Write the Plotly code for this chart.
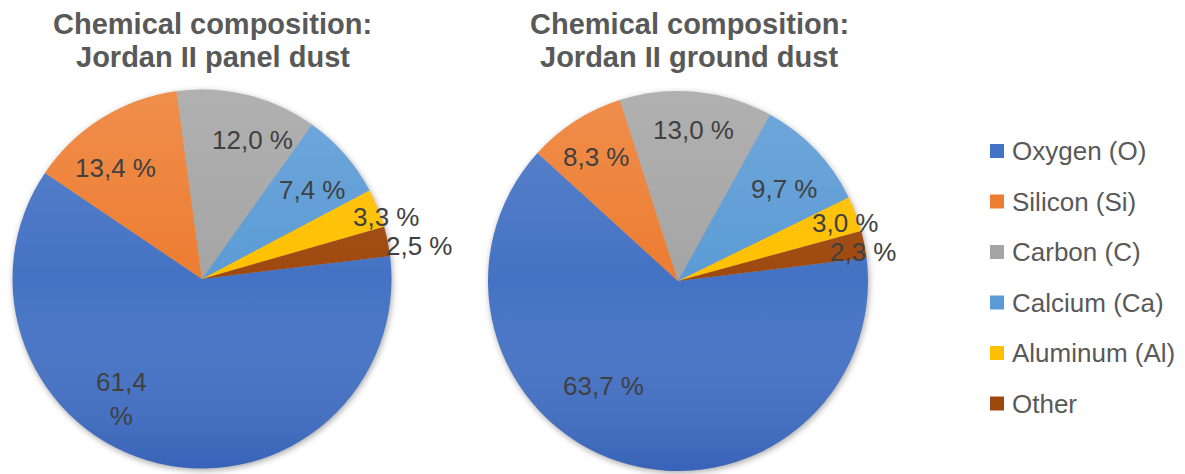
import base64
import math
import plotly.graph_objects as go

# ---- data -------------------------------------------------------------
elements = ["Oxygen (O)", "Silicon (Si)", "Carbon (C)", "Calcium (Ca)", "Aluminum (Al)", "Other"]
panel_dust = [61.4, 13.4, 12.0, 7.4, 3.3, 2.5]
ground_dust = [63.7, 8.3, 13.0, 9.7, 3.0, 2.3]
titles = ["Chemical composition:", "Jordan II panel dust", "Jordan II ground dust"]

# ---- styling ----------------------------------------------------------
colors = ["#4472C4", "#ED7D31", "#A5A5A5", "#5B9BD5", "#FFC000", "#9E480E"]
W, H = 1185, 474
FONT = "Liberation Sans, Arial, sans-serif"
START_ANGLE = 83  # first slice starts this many degrees clockwise from 12 o'clock

# pie geometry in pixels: centre x, centre y, radius
pies = [
    dict(values=panel_dust, cx=202, cy=279, r=189.5, title=titles[1], tx=213,
         # per-slice label placement: (angle shift in degrees, radius fraction)
         place=[(20.4, 0.76), (-6.1, 0.74), (6.0, 0.78), (2.5, 0.75), (3.3, 1.03), (2.8, 1.16)],
         wrap={0}),
    dict(values=ground_dust, cx=678, cy=281, r=190, title=titles[2], tx=689,
         place=[(17.8, 0.68), (-0.8, 0.78), (0.4, 0.80), (2.5, 0.74), (1.6, 0.935), (2.2, 0.99)],
         wrap=set()),
]


def px(x):
    return x / W


def py(y):
    return 1 - y / H


def fmt(v):
    return f"{v:.1f} %".replace(".", ",")


def svg_uri(svg):
    return "data:image/svg+xml;base64," + base64.b64encode(svg.encode()).decode()


SHADE_SVG = (
    "<svg xmlns='http://www.w3.org/2000/svg' width='200' height='200' viewBox='0 0 200 200' "
    "preserveAspectRatio='none'><defs><linearGradient id='g' x1='0' y1='0' x2='0' y2='1'>"
    "<stop offset='0' stop-color='#ffffff' stop-opacity='0.13'/>"
    "<stop offset='0.5' stop-color='#ffffff' stop-opacity='0'/>"
    "<stop offset='1' stop-color='#0c2c8c' stop-opacity='0.22'/>"
    "</linearGradient></defs><circle cx='100' cy='100' r='100' fill='url(#g)'/></svg>"
)


def shadow_svg(r, pad):
    s = 2 * (r + pad)
    return (
        f"<svg xmlns='http://www.w3.org/2000/svg' width='{s}' height='{s}' viewBox='0 0 {s} {s}'>"
        "<defs><filter id='b' x='-20%' y='-20%' width='140%' height='140%'>"
        "<feGaussianBlur stdDeviation='3'/></filter></defs>"
        f"<circle cx='{pad + r + 1}' cy='{pad + r + 2}' r='{r}' fill='#000' fill-opacity='0.35' filter='url(#b)'/>"
        "</svg>"
    )


fig = go.Figure()
images = []
annotations = []

for p in pies:
    r = p["r"]
    x0, x1 = px(p["cx"] - r), px(p["cx"] + r)
    y0, y1 = py(p["cy"] + r), py(p["cy"] - r)
    fig.add_trace(go.Pie(
        labels=elements,
        values=p["values"],
        sort=False,
        direction="clockwise",
        rotation=START_ANGLE,
        marker=dict(colors=colors, line=dict(width=0)),
        textinfo="none",
        hoverinfo="label+percent",
        showlegend=False,
        domain=dict(x=[x0, x1], y=[y0, y1]),
    ))

    # soft drop shadow beneath the pie and vertical shading on top of it
    pad = 10
    images.append(dict(
        source=svg_uri(shadow_svg(r, pad)), xref="paper", yref="paper",
        x=px(p["cx"] - r - pad), y=py(p["cy"] - r - pad),
        sizex=px(2 * (r + pad)), sizey=2 * (r + pad) / H,
        xanchor="left", yanchor="top", sizing="stretch", layer="below",
    ))
    images.append(dict(
        source=svg_uri(SHADE_SVG), xref="paper", yref="paper",
        x=x0, y=y1, sizex=x1 - x0, sizey=y1 - y0,
        xanchor="left", yanchor="top", sizing="stretch", layer="above",
    ))

    # data labels at the angular position of each slice
    total = sum(p["values"])
    acc = START_ANGLE
    for i, v in enumerate(p["values"]):
        span = 360 * v / total
        mid = acc + span / 2
        acc += span
        shift, frac = p["place"][i]
        a = math.radians(mid + shift)
        lx = p["cx"] + frac * r * math.sin(a)
        ly = p["cy"] - frac * r * math.cos(a)
        text = fmt(v)
        if i in p["wrap"]:
            text = text.replace(" ", "<br>")
        annotations.append(dict(
            x=px(lx), y=py(ly), xref="paper", yref="paper", text=text,
            showarrow=False, xanchor="center", yanchor="middle",
            font=dict(family=FONT, size=26, color="#404040"),
        ))

    # two-line chart title
    for k, (line, ty) in enumerate([(titles[0], 24), (p["title"], 57)]):
        annotations.append(dict(
            x=px(p["tx"]), y=py(ty), xref="paper", yref="paper", text=line,
            showarrow=False, xanchor="center", yanchor="middle",
            font=dict(family=FONT, size=29, color="#595959", weight="bold"),
        ))

# legend: coloured squares with category names
shapes = []
LEG_X, LEG_Y, LEG_STEP, SW = 990, 151, 50.5, 14
for i, (name, c) in enumerate(zip(elements, colors)):
    yc = LEG_Y + i * LEG_STEP
    shapes.append(dict(
        type="rect", xref="paper", yref="paper",
        x0=px(LEG_X), x1=px(LEG_X + SW), y0=py(yc + SW / 2), y1=py(yc - SW / 2),
        fillcolor=c, line=dict(width=0),
    ))
    annotations.append(dict(
        x=px(LEG_X + SW + 6), y=py(yc), xref="paper", yref="paper", text=name,
        showarrow=False, xanchor="left", yanchor="middle",
        font=dict(family=FONT, size=26, color="#595959"),
    ))

fig.update_layout(
    width=W, height=H,
    margin=dict(l=0, r=0, t=0, b=0),
    paper_bgcolor="white", plot_bgcolor="white",
    images=images, annotations=annotations, shapes=shapes,
    showlegend=False,
)

fig.write_html("out.html")
